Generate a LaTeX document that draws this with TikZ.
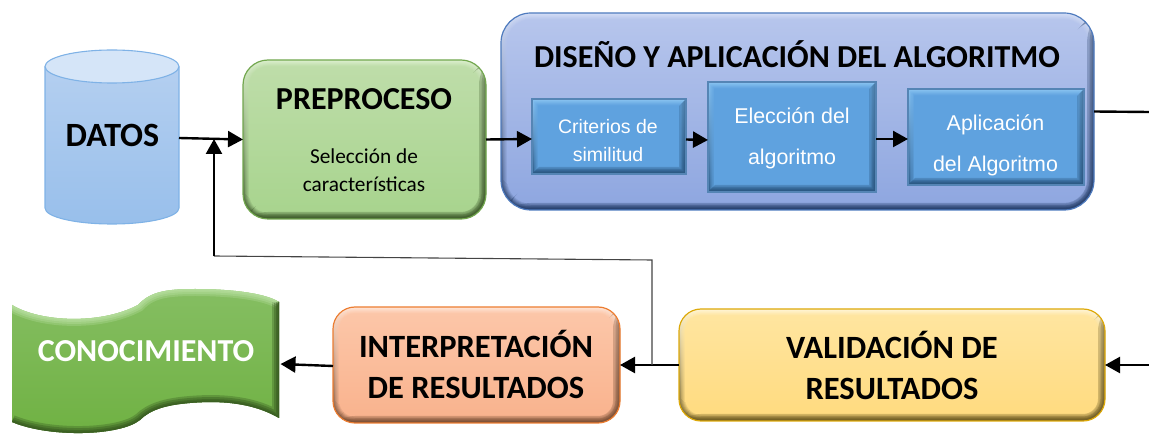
\documentclass[tikz,border=0pt]{standalone}
\usepackage{fontspec}
\setmainfont{Carlito}
\newfontfamily\arialf{Liberation Sans}
\usetikzlibrary{arrows.meta}
\definecolor{cylside}{HTML}{B4CFF0}
\definecolor{cylsideb}{HTML}{98BFEB}
\definecolor{cyltop}{HTML}{D5E5F8}
\definecolor{cylline}{HTML}{7FB2E6}
\definecolor{grT}{HTML}{BEDDA9}\definecolor{grB}{HTML}{A8D48E}\definecolor{grL}{HTML}{DDF0CF}\definecolor{grD}{HTML}{3F5C2C}\definecolor{grE}{HTML}{72A74E}
\definecolor{dsT}{HTML}{B6C5EC}\definecolor{dsB}{HTML}{8FA7E0}\definecolor{dsL}{HTML}{D5DFF6}\definecolor{dsD}{HTML}{263F6B}\definecolor{dsE}{HTML}{4F7BBE}
\definecolor{inB}{HTML}{5FA2DF}\definecolor{inL}{HTML}{8CC6F2}\definecolor{inD}{HTML}{2A5680}\definecolor{inE}{HTML}{5585B5}
\definecolor{orT}{HTML}{FCC6A8}\definecolor{orB}{HTML}{F9B38E}\definecolor{orL}{HTML}{FFE6D8}\definecolor{orD}{HTML}{7A4E34}\definecolor{orE}{HTML}{EC7D31}
\definecolor{yeT}{HTML}{FFE59F}\definecolor{yeB}{HTML}{FFDB80}\definecolor{yeL}{HTML}{FFF6D8}\definecolor{yeD}{HTML}{6E5B22}\definecolor{yeE}{HTML}{DDA90A}
\definecolor{knT}{HTML}{85BE62}\definecolor{knB}{HTML}{6FB142}\definecolor{knL}{HTML}{B3DC9A}\definecolor{knD}{HTML}{3A5E22}
\definecolor{fbline}{HTML}{444444}
\tikzset{
  title/.style={font=\fontsize{32}{35}\selectfont\bfseries,align=center,inner sep=0pt,text=black},
  ttwo/.style={font=\fontsize{32.5}{41}\selectfont\bfseries,align=center,inner sep=0pt,text=black},
  sub/.style={font=\fontsize{21.3}{28}\selectfont,align=center,inner sep=0pt,text=black},
  intxt/.style={font=\arialf\fontsize{21.4}{41}\selectfont,align=center,inner sep=0pt,text=white},
  flow/.style={line width=2.4pt,-{Triangle[length=15pt,width=16pt]}},
  plain/.style={line width=2.4pt},
  thin line/.style={line width=1.1pt,draw=fbline}
}
% x1 y1 x2 y2 radius light dark top bottom edge name
\newcommand{\bevelbox}[9]{%
  \begingroup
  \def\bx{#1}\def\by{#2}\def\bX{#3}\def\bY{#4}\def\br{#5}%
  \def\bL{#6}\def\bD{#7}\def\bT{#8}\def\bB{#9}%
  \bevelboxb}
\newcommand{\bevelboxb}[2]{%
  \foreach \i in {0,...,7}{%
    \pgfmathtruncatemacro{\p}{100-\i*100/7}%
    \pgfmathsetmacro{\a}{\i*0.9}%
    \pgfmathsetmacro{\rr}{max(\br-\i*0.9,0.01)}%
    \path[rounded corners=\rr pt,top color=\bL!\p!\bT,bottom color=\bD!\p!\bB]
      (\bx+\a,\by+\a) rectangle (\bX-\a,\bY-\a);
  }%
  \begin{scope}
    \clip[rounded corners=\br pt] (\bx,\by) rectangle (\bX,\bY);
    \foreach \wd in {7,4.5,2.5}{%
      \pgfmathsetmacro{\rq}{max(\br-\wd,0.01)}%
      \fill[\bD,opacity=0.28,rounded corners=\rq pt]
        (\bX+3,\by-3) -- (\bX+3,\bY+3) -- (\bx-3,\bY+3) -- (\bx+\wd,\bY-\wd) -- (\bX-\wd,\bY-\wd) -- (\bX-\wd,\by+\wd) -- cycle;
    }
  \end{scope}%
  \pgfmathsetmacro{\w}{\bX-\bx}\pgfmathsetmacro{\h}{\bY-\by}%
  \pgfmathsetmacro{\cx}{(\bX+\bx)/2}\pgfmathsetmacro{\cy}{(\bY+\by)/2}%
  \node[draw=#1,line width=1.2pt,rounded corners=\br pt,minimum width=\w pt,minimum height=\h pt,inner sep=0pt,outer sep=0pt] (#2) at (\cx,\cy) {};
  \endgroup}
\newcommand{\wavepath}{(12,305) .. controls (40,322) and (100,325) .. (138,305) .. controls (150,292) and (165,289) .. (195,289) .. controls (230,289) and (265,293) .. (279,302) -- (279,418) .. controls (255,404) and (225,400) .. (190,403) .. controls (165,405) and (150,410) .. (140,420) .. controls (120,436) and (50,438) .. (12,422) -- cycle}
\begin{document}
\begin{tikzpicture}[x=1pt,y=-1pt]
\useasboundingbox (0,0) rectangle (1149,435);
% cylinder
\path[top color=cylside,bottom color=cylsideb,draw=cylline,line width=1.1pt]
 (45,67) -- (45,208) .. controls (45,217) and (75,224) .. (112,224) .. controls (149,224) and (179,217) .. (179,208) -- (179,67) -- cycle;
\draw[fill=cyltop,draw=cylline,line width=1.1pt] (112,66.5) ellipse [x radius=67,y radius=16.5];
\node[minimum width=134pt,minimum height=174pt,inner sep=0pt,outer sep=0pt] (datos) at (112,137) {};
\node[title,font=\fontsize{34}{36}\selectfont\bfseries] (datostxt) at (112.5,135) {DATOS};
% boxes
\bevelbox{243}{60}{486}{219}{25}{grL}{grD}{grT}{grB}{grE}{prep}
\node[title] (preptxt) at (364,99) {PREPROCESO};
\node[sub] (preptwo) at (364,170.5) {Selección de\\características};
\bevelbox{501}{13}{1094}{210}{30}{dsL}{dsD}{dsT}{dsB}{dsE}{disenio}
\node[title] (distxt) at (797,54.5) {DISEÑO Y APLICACIÓN DEL ALGORITMO};
\bevelbox{532}{99}{686}{174}{0}{inL}{inD}{inB}{inB}{inE}{crit}
\node[font=\arialf\fontsize{19.5}{28}\selectfont,align=center,inner sep=0pt,text=white] (crittxt) at (608,140.5) {Criterios de\\similitud};
\bevelbox{708}{82}{876}{192}{0}{inL}{inD}{inB}{inB}{inE}{elec}
\node[intxt] (electxt) at (792,138) {Elección del\\algoritmo};
\bevelbox{908}{89}{1084}{185}{0}{inL}{inD}{inB}{inB}{inE}{aplic}
\node[intxt] (aplictxt) at (995.5,145) {Aplicación\\del Algoritmo};
\bevelbox{333}{307}{620}{423}{22}{orL}{orD}{orT}{orB}{orE}{interp}
\node[ttwo] (interptxt) at (476,364) {INTERPRETACIÓN\\DE RESULTADOS};
\bevelbox{679}{309}{1105}{421}{22}{yeL}{yeD}{yeT}{yeB}{yeE}{valid}
\node[ttwo] (validtxt) at (892,365.5) {VALIDACIÓN DE\\RESULTADOS};
% conocimiento
\path[top color=knT,bottom color=knB] \wavepath;
\begin{scope}
\clip \wavepath;
\foreach \w/\o in {14/35,10/45,6/60,3/80}{
 \draw[knL,opacity=\o/100,line width=\w pt] (12,305) .. controls (40,322) and (100,325) .. (138,305) .. controls (150,292) and (165,289) .. (195,289) .. controls (230,289) and (265,293) .. (279,302);
 \draw[knD,opacity=\o/100,line width=\w pt] (279,302) -- (279,418) .. controls (255,404) and (225,400) .. (190,403) .. controls (165,405) and (150,410) .. (140,420) .. controls (120,436) and (50,438) .. (12,422);
}
\end{scope}
\node[minimum width=267pt,minimum height=130pt,inner sep=0pt,outer sep=0pt] (conoc) at (146,364) {};
\node[font=\fontsize{32}{35}\selectfont\bfseries,inner sep=0pt,text=white] (conoctxt) at (146,351) {CONOCIMIENTO};
% connector coordinates
\coordinate (rightin) at (1149,365);
\coordinate (rightout) at (1149,112);
\coordinate (fbjoin) at (652,365);
\coordinate (fbcorner) at (652,260);
\coordinate (fbleft) at (214,256);
\coordinate (fbtip) at (214,139);
% connectors
\draw[flow] ([yshift=-1pt]datos.east) -- (prep.west);
\draw[flow] (prep.east) -- ([yshift=-2.5pt]crit.west);
\draw[flow] ([yshift=-3pt]crit.east) -- ([yshift=-3pt]elec.west);
\draw[flow] ([yshift=-2pt]elec.east) -- ([yshift=-2pt]aplic.west);
\draw[plain] (disenio.east) -- (rightout);
\draw[flow] (rightin) -- (valid.east);
\draw[flow] (valid.west) -- (interp.east);
\draw[flow] ([yshift=-1pt]interp.west) -- ([xshift=1pt]conoc.east);
\draw[thin line] (fbjoin) -- (fbcorner) -- (fbleft);
\draw[flow] (fbleft) -- (fbtip);
\end{tikzpicture}
\end{document}
